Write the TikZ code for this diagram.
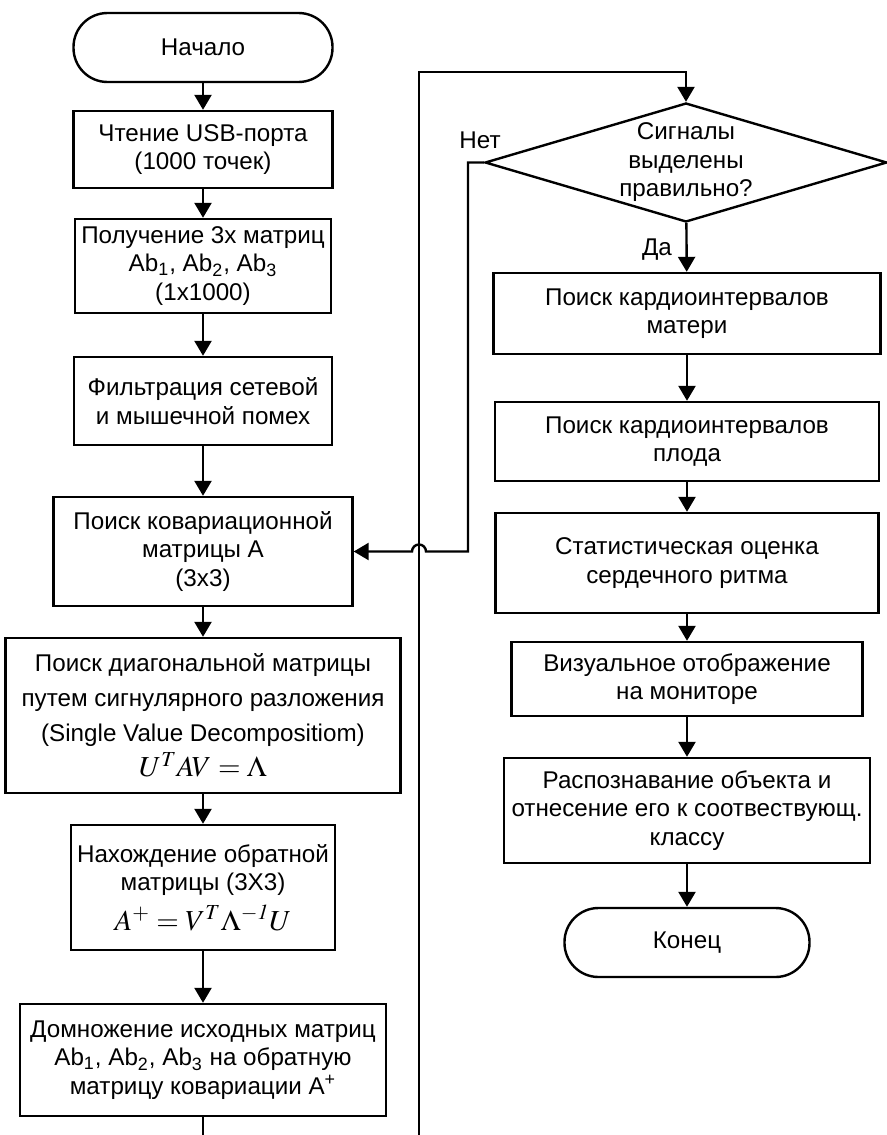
\documentclass[tikz,border=0pt]{standalone}
\usepackage{mathptmx}
\usepackage[no-math]{fontspec}
\setmainfont{Liberation Sans}
\usetikzlibrary{arrows.meta,shapes.geometric}

\begin{document}
\begin{tikzpicture}[->,>={Triangle[length=7.5pt,width=8.5pt]},x=.5pt,y=-.5pt,line width=1.2pt,
  every node/.style={font=\fontsize{12.1}{14.25}\selectfont,align=center,inner sep=0pt},
  box/.style={draw,rectangle},
  term/.style={draw,rectangle,rounded corners=17pt,minimum width=129.5pt,minimum height=34.5pt},
  cond/.style={draw,diamond,aspect=3.4}]
   \useasboundingbox (0,0) rectangle (887,1135);

   % left column
   \node[term] (l0) at (203,47.5) {Начало};
   \node[box,minimum width=129.5pt,minimum height=38.5pt] (l1) at (203,149.5) {Чтение USB-порта\\(1000 точек)};
   \node[box,minimum width=128pt,minimum height=47pt] (l2) at (203,266) {Получение 3х матриц\\Ab\textsubscript{1}, Ab\textsubscript{2}, Ab\textsubscript{3}\\(1x1000)};
   \node[box,minimum width=129pt,minimum height=44pt] (l3) at (203,401) {Фильтрация сетевой\\и мышечной помех};
   \node[box,minimum width=149.5pt,minimum height=54.5pt] (l4) at (203,551.5) {Поиск ковариационной\\матрицы А\\(3х3)};
   \node[box,minimum width=197.5pt,minimum height=77.5pt,font=\fontsize{12.1}{17.5}\selectfont] (l5) at (203,715.5) {Поиск диагональной матрицы\\путем сигнулярного разложения\\(Single Value Decompositiom)\\{\fontsize{14.5}{17}\selectfont$U^T AV=\Lambda$}};
   \node[box,minimum width=132pt,minimum height=62.5pt] (l6) at (203,887.5) {Нахождение обратной\\матрицы (3Х3)\\[4pt]{\fontsize{14.5}{17}\selectfont$A^+=V^T\Lambda^{-\mathit{1}}U$}};
   \node[box,minimum width=183pt,minimum height=56pt] (l7) at (203,1060) {Домножение исходных матриц\\Ab\textsubscript{1}, Ab\textsubscript{2}, Ab\textsubscript{3} на обратную\\матрицу ковариации А\textsuperscript{+}};

   % right column
   \node[cond,minimum width=201pt,minimum height=59.5pt] (r0) at (686,162.5) {Сигналы\\выделены\\правильно?};
   \node[box,minimum width=193.5pt,minimum height=40.5pt] (r1) at (687,313.5) {Поиск кардиоинтервалов\\матери};
   \node[box,minimum width=192pt,minimum height=39.5pt] (r2) at (687,441.5) {Поиск кардиоинтервалов\\плода};
   \node[box,minimum width=191.5pt,minimum height=50pt] (r3) at (687,563) {Статистическая оценка\\сердечного ритма};
   \node[box,minimum width=175.5pt,minimum height=37pt] (r4) at (687,679) {Визуальное отображение\\на мониторе};
   \node[box,minimum width=183pt,minimum height=52.5pt] (r5) at (687,810.5) {Распознавание объекта и\\отнесение его к соотвествующ.\\классу};
   \node[term,minimum width=122.5pt] (r6) at (687,942.5) {Конец};

   \node (no) at (480,140) {Нет};
   \node (yes) at (657,250) {Да};

   \coordinate (cutL) at (203,1135);
   \coordinate (cutR) at (419,1135);
   \coordinate (topR) at (419,72);
   \coordinate (noR) at (468,162.5);
   \coordinate (noD) at (468,551.5);
   \coordinate (hop) at (426,551.5);

   \path (l0) edge (l1);
   \path (l1) edge (l2);
   \path (l2) edge (l3);
   \path (l3) edge (l4);
   \path (l4) edge (l5);
   \path (l5) edge (l6);
   \path (l6) edge (l7);
   \draw[-] (l7) -- (cutL);

   \draw (cutR) -- (topR) -| (r0.north);
   \draw (r0.west) -- (noR) -- (noD) -- (hop) arc[start angle=0,end angle=-180,radius=7] -- (l4.east);

   \path (r0) edge (r1);
   \path (r1) edge (r2);
   \path (r2) edge (r3);
   \path (r3) edge (r4);
   \path (r4) edge (r5);
   \path (r5) edge (r6);
\end{tikzpicture}
\end{document}
